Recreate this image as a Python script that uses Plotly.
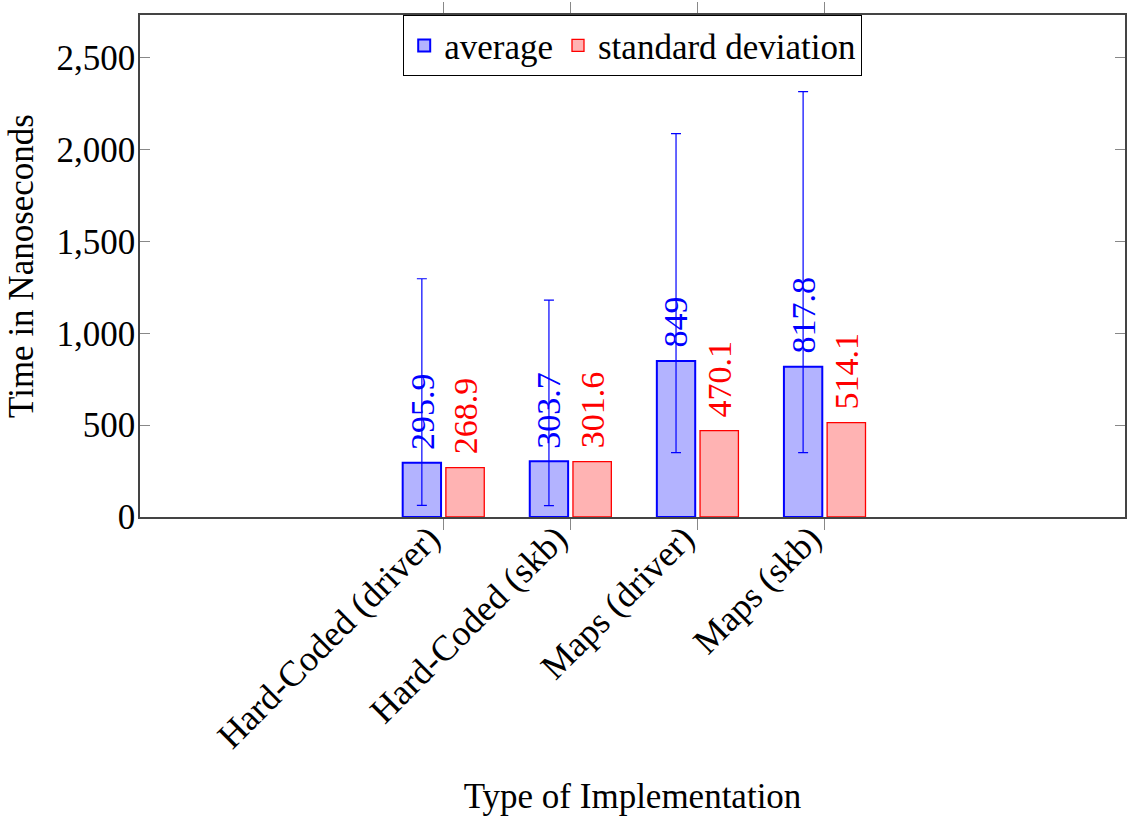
import plotly.graph_objects as go

# Measured timings per implementation (nanoseconds)
categories = ["Hard-Coded (driver)", "Hard-Coded (skb)", "Maps (driver)", "Maps (skb)"]
average = [295.9, 303.7, 849, 817.8]
std_dev = [268.9, 301.6, 470.1, 514.1]
# Whisker ends drawn on the average bars
whisker_high = [1297, 1181, 2087, 2316]
whisker_low = [63, 62, 350, 350]

y_ticks = [0, 500, 1000, 1500, 2000, 2500]

FONT = "Liberation Serif"
FS = 35
BLUE = "rgb(0,0,255)"
RED = "rgb(255,0,0)"

xpos = list(range(len(categories)))
bar_w = 0.302
blue_off = -0.32
red_off = 0.02

err_plus = [h - a for h, a in zip(whisker_high, average)]
err_minus = [a - l for a, l in zip(average, whisker_low)]

fig = go.Figure()
fig.add_trace(go.Bar(
    x=xpos, y=average, name="average",
    width=bar_w, offset=blue_off,
    marker=dict(color="rgb(179,179,255)", line=dict(color=BLUE, width=2)),
    error_y=dict(type="data", symmetric=False, array=err_plus, arrayminus=err_minus,
                 color=BLUE, thickness=1.2, width=5),
))
fig.add_trace(go.Bar(
    x=xpos, y=std_dev, name="standard deviation",
    width=bar_w, offset=red_off,
    marker=dict(color="rgb(255,179,179)", line=dict(color=RED, width=1.3)),
))

# Rotated value labels above each bar
for i, (a, s) in enumerate(zip(average, std_dev)):
    fig.add_annotation(x=xpos[i] + blue_off + bar_w / 2, y=a, text=f"{a:g}",
                       textangle=-90, showarrow=False, xanchor="center", yanchor="bottom",
                       yshift=11, font=dict(family=FONT, size=34, color=BLUE))
    fig.add_annotation(x=xpos[i] + red_off + bar_w / 2, y=s, text=f"{s:g}",
                       textangle=-90, showarrow=False, xanchor="center", yanchor="bottom",
                       yshift=11, font=dict(family=FONT, size=34, color=RED))

fig.update_layout(
    width=1129, height=816,
    margin=dict(l=140, r=2, t=12, b=299),
    paper_bgcolor="white", plot_bgcolor="white",
    barmode="overlay",
    font=dict(family=FONT, size=FS, color="black"),
    showlegend=True,
    legend=dict(orientation="h", x=0.5, xanchor="center", y=1, yanchor="top",
                bordercolor="black", borderwidth=1.2, bgcolor="white",
                font=dict(family=FONT, size=FS), itemwidth=30,
                tracegroupgap=0),
)
fig.update_xaxes(
    range=[-2.387, 5.364],
    tickvals=xpos, ticktext=categories, tickangle=-45,
    tickfont=dict(family=FONT, size=36),
    ticklabelshift=-14, ticklabelstandoff=-27,
    ticks="outside", ticklen=11, tickcolor="#888", tickwidth=1,
    showline=True, linecolor="#444", linewidth=1.5, mirror="ticks",
    showgrid=False, zeroline=False,
    title=dict(text="Type of Implementation", standoff=30,
               font=dict(family=FONT, size=FS)),
)
fig.update_yaxes(
    range=[0, 2733],
    tickvals=y_ticks, tickformat=",d",
    ticks="inside", ticklen=10, tickcolor="#888", tickwidth=1,
    ticklabelstandoff=-4,
    showline=True, linecolor="#444", linewidth=1.5, mirror="ticks",
    showgrid=False, zeroline=False,
    title=dict(text="Time in Nanoseconds", standoff=12,
               font=dict(family=FONT, size=FS)),
)

fig.write_html("out.html")
